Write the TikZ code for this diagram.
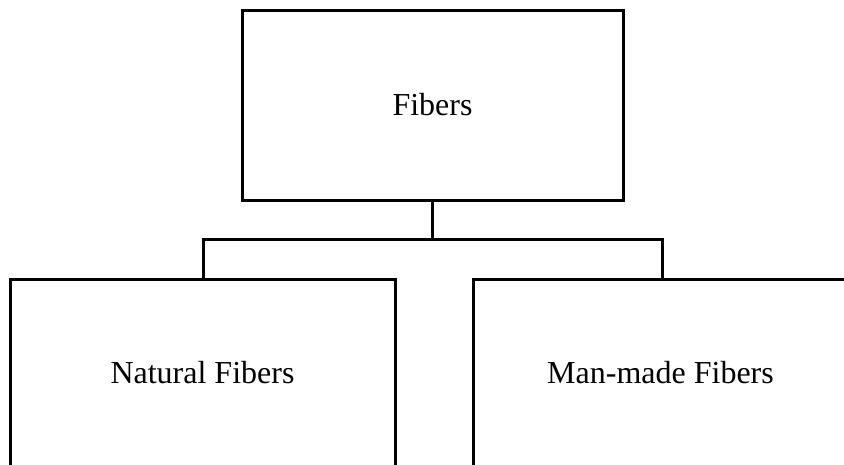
\documentclass[tikz,border=0pt]{standalone}
\usepackage{fontspec}
\setmainfont{Liberation Serif}
\begin{document}
\begin{tikzpicture}[x=1pt,y=-1pt,
  box/.style={draw=black,line width=3pt,rectangle,inner sep=0pt,font=\fontsize{32}{38}\selectfont},
  conn/.style={draw=black,line width=3pt}]
\useasboundingbox (0,0) rectangle (844,464);
\clip (0,0) rectangle (844,464);
\node[box,minimum width=381pt,minimum height=190pt] (top) at (432.5,105) {Fibers};
\node[box,minimum width=385pt,minimum height=187pt] (left) at (202.5,372.5) {Natural Fibers};
\node[box,minimum width=375pt,minimum height=187pt] (right) at (660.5,372.5) {Man-made Fibers};
\coordinate (busL) at (203,239);
\coordinate (busR) at (662,239);
\draw[conn] (top.south) |- (busL) -- (busL |- left.north);
\draw[conn] (top.south) |- (busR) -- (busR |- right.north);
\end{tikzpicture}
\end{document}
